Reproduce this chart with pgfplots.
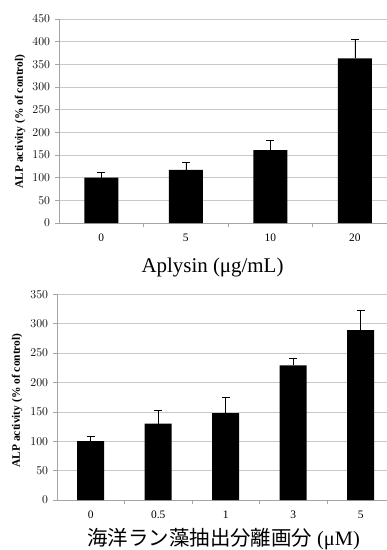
\documentclass[border=0pt]{standalone}
\usepackage{pgfplots}
\pgfplotsset{compat=1.18}
\usepackage{fontspec}
\setmainfont{Liberation Serif}
\newfontfamily\cjk{Noto Sans CJK JP}
\definecolor{gridc}{RGB}{200,200,200}
\definecolor{axc}{RGB}{165,165,165}
\begin{document}
\begin{tikzpicture}
\useasboundingbox (0,0) rectangle (387bp,-550bp);
\pgfplotsset{
  myax/.style={
    scale only axis, anchor=south west,
    axis x line*=bottom, axis y line*=left,
    axis line style={draw=axc, line width=0.6pt},
    ymajorgrids, grid style={gridc, line width=0.6pt},
    ybar, bar shift=0pt,
    ymin=0, xmin=-0.5,
    tick align=outside,
    major tick length=3.5bp,
    tick style={axc, line width=0.6pt},
    yticklabel style={font=\fontsize{11.5}{12}\selectfont, xshift=-2bp},
    xticklabels={},
    extra x tick style={major tick length=0pt, grid=none,
      xticklabel style={font=\fontsize{11.5}{12}\selectfont, yshift=-7bp}},
  },
  mybar/.style={fill=black, draw=none,
    error bars/.cd, y dir=plus, y explicit,
    error bar style={black, line width=0.6pt},
    error mark options={rotate=90, mark size=4bp, black, line width=0.6pt}},
}
% ---------------- Top chart ----------------
\begin{axis}[myax,
  at={(59bp,-223bp)}, width=328bp, height=204bp,
  ymax=450, ytick={0,50,...,450},
  xmax=3.38, xtick={0.5,1.5,2.5},
  extra x ticks={0,1,2,3}, extra x tick labels={0,5,10,20},
  bar width=34bp]
\addplot[mybar] coordinates {(0,100) +- (0,12) (1,117) +- (0,17) (2,161) +- (0,22) (3,363) +- (0,42)};
\end{axis}
\node[rotate=90, font=\bfseries\fontsize{11.5}{12}\selectfont] at (20bp,-121.5bp) {ALP activity (\% of control)};
\node[anchor=base, font=\fontsize{21}{24}\selectfont] at (212.5bp,-272bp) {Aplysin (μg/mL)};
% ---------------- Bottom chart ----------------
\begin{axis}[myax,
  at={(57bp,-500bp)}, width=330bp, height=205.7bp,
  ymax=350, ytick={0,50,...,350},
  xmax=4.39, xtick={0.5,1.5,2.5,3.5},
  extra x ticks={0,1,2,3,4}, extra x tick labels={0,0.5,1,3,5},
  bar width=27bp]
\addplot[mybar] coordinates {(0,100) +- (0,9) (1,130) +- (0,22) (2,148) +- (0,26) (3,229) +- (0,12) (4,289) +- (0,34)};
\end{axis}
\node[rotate=90, font=\bfseries\fontsize{11.5}{12}\selectfont] at (17bp,-400.5bp) {ALP activity (\% of control)};
\node[anchor=base west, font=\fontsize{20.5}{24}\selectfont] at (84bp,-545bp) {{\cjk 海洋ラン藻抽出分離画分}\hspace{5bp}(μM)};
\end{tikzpicture}
\end{document}
